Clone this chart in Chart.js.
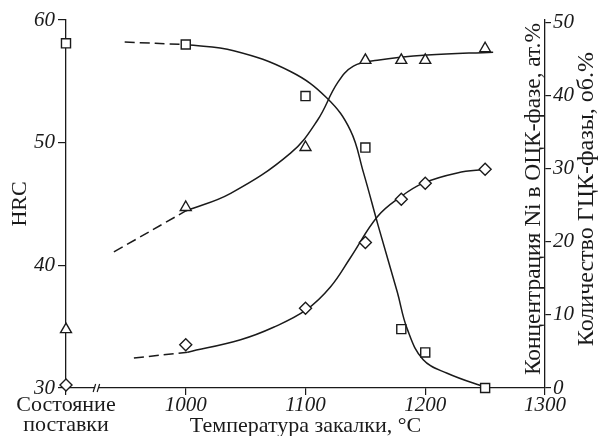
<!DOCTYPE html>
<html>
<head>
<meta charset="utf-8">
<script src="https://cdn.jsdelivr.net/npm/chart.js@4"></script>
<style>
  html, body { margin: 0; padding: 0; background: #fff; }
  #chart { display: block; }
</style>
</head>
<body>
<canvas id="chart" width="600" height="436"></canvas>
<script>
// measured points (x = quench temperature, 900 stands for "as delivered")
const temps = [900, 1000, 1100, 1150, 1180, 1200, 1250];
const hrc = [58.1, 58.0, 53.8, 49.6, 34.8, 32.9, 30.0];
const niBcc = [8.0, 24.7, 32.9, 44.8, 44.8, 44.8, 46.4];
const fccAmount = [0.4, 5.9, 10.9, 19.9, 25.8, 28.0, 29.9];

// fitted curves
const hrcDashT = [949, 1000];
const hrcDash = [58.2, 58.0];
const hrcFitT = [1000, 1040, 1087.5, 1118.3, 1137.5, 1148.3, 1160.8, 1176.7, 1185, 1198.3, 1218.3, 1251.7];
const hrcFit = [58.0, 57.5, 55.8, 53.6, 51.0, 47.6, 43.2, 37.8, 34.8, 32.3, 31.2, 30.0];

const niDashT = [940, 1000];
const niDash = [18.6, 24.2];
const niFitT = [1000, 1037.5, 1087.5, 1110, 1126.7, 1140, 1160, 1201.7, 1256.7];
const niFit = [24.2, 26.6, 32.1, 36.6, 41.7, 44.0, 44.8, 45.5, 45.9];

const fccDashT = [956.7, 1001.7];
const fccDash = [4.1, 4.9];
const fccFitT = [1001.7, 1045.8, 1073.3, 1100.8, 1120.8, 1137.5, 1160, 1179.2, 1198.3, 1226.7, 1251.7];
const fccFit = [4.9, 6.6, 8.3, 10.7, 13.8, 17.8, 23.4, 26.1, 28.0, 29.4, 29.9];

// axes
const xTicks = [900, 1000, 1100, 1200, 1300];
const hrcTicks = [30, 40, 50, 60];
const rightTicks = [0, 10, 20, 30, 40, 50];
const supplyLabel = ["Состояние", "поставки"];
const xTitle = "Температура закалки, °C";
const hrcTitle = "HRC";
const niTitle = "Концентрация Ni в ОЦК-фазе, ат.%";
const fccTitle = "Количество ГЦК-фазы, об.%";

const ink = "#1a1a1a";
const serif = "'Liberation Serif', 'Times New Roman', serif";

const pts = (xs, ys) => xs.map((x, i) => ({ x: x, y: ys[i] }));

const markers = (data, axis, style, radius) => ({
  data: data,
  yAxisID: axis,
  showLine: false,
  pointStyle: style,
  pointRadius: radius,
  pointBackgroundColor: "#fff",
  pointBorderColor: ink,
  pointBorderWidth: 1.4,
  clip: false,
  order: 0,
});

const curve = (data, axis, dashed) => ({
  data: data,
  yAxisID: axis,
  borderColor: ink,
  borderWidth: 1.5,
  borderDash: dashed ? [10, 5] : [],
  pointRadius: 0,
  tension: 0.4,
  fill: false,
  clip: false,
  order: 1,
});

// right-side titles (two lines, reading upwards) and the axis break
const extras = {
  id: "extras",
  afterDraw(chart) {
    const { ctx, chartArea, scales } = chart;
    const midY = (scales.y2.getPixelForValue(0) + scales.y2.getPixelForValue(50)) / 2 - 6;
    ctx.save();
    ctx.fillStyle = ink;
    ctx.textAlign = "center";
    ctx.textBaseline = "middle";
    [[chartArea.right - 11, niTitle, 352], [chartArea.right + 42, fccTitle, 312]].forEach(([x, text, len]) => {
      ctx.font = "22px " + serif;
      const size = Math.min(24, 22 * len / ctx.measureText(text).width);
      ctx.font = size.toFixed(1) + "px " + serif;
      ctx.save();
      ctx.translate(x, midY);
      ctx.rotate(-Math.PI / 2);
      ctx.fillText(text, 0, 0);
      ctx.restore();
    });

    const bx = scales.x.getPixelForValue(926);
    const by = chartArea.bottom;
    ctx.fillStyle = "#fff";
    ctx.fillRect(bx - 2, by - 2, 3, 4);
    ctx.strokeStyle = ink;
    ctx.lineWidth = 1.2;
    ctx.beginPath();
    ctx.moveTo(bx - 4, by + 4);
    ctx.lineTo(bx - 1.5, by - 4);
    ctx.moveTo(bx, by + 4);
    ctx.lineTo(bx + 2.5, by - 4);
    ctx.stroke();
    ctx.restore();
  },
};

new Chart(document.getElementById("chart"), {
  type: "line",
  data: {
    datasets: [
      markers(pts(temps, hrc), "y", "rect", 6.4),
      markers(pts(temps, niBcc), "y2", "triangle", 6.3),
      markers(pts(temps, fccAmount), "y2", "rectRot", 6),
      curve(pts(hrcDashT, hrcDash), "y", true),
      curve(pts(hrcFitT, hrcFit), "y", false),
      curve(pts(niDashT, niDash), "y2", true),
      curve(pts(niFitT, niFit), "y2", false),
      curve(pts(fccDashT, fccDash), "y2", true),
      curve(pts(fccFitT, fccFit), "y2", false),
    ],
  },
  options: {
    responsive: false,
    animation: false,
    layout: { padding: { top: 20, left: 0, right: 0, bottom: 0 } },
    plugins: { legend: { display: false }, tooltip: { enabled: false } },
    scales: {
      x: {
        type: "linear",
        min: 900,
        max: 1300,
        afterBuildTicks: (s) => { s.ticks = xTicks.map((v) => ({ value: v })); },
        afterFit: (s) => { s.height = 48; },
        grid: { drawOnChartArea: false, tickLength: 7, color: ink, lineWidth: 1.2 },
        border: { color: ink, width: 1.3 },
        ticks: {
          padding: 0,
          color: ink,
          maxRotation: 0,
          autoSkip: false,
          callback: (v) => (v === 900 ? supplyLabel : String(v)),
          font: (c) => (c.tick && c.tick.value === 900
            ? { family: serif, size: 22, lineHeight: "20px" }
            : { family: serif, size: 21, style: "italic", lineHeight: "20px" }),
        },
        title: {
          display: true,
          text: xTitle,
          color: ink,
          padding: 0,
          font: { family: serif, size: 22, lineHeight: "19px" },
        },
      },
      y: {
        position: "left",
        min: 30,
        max: 60,
        afterBuildTicks: (s) => { s.ticks = hrcTicks.map((v) => ({ value: v })); },
        afterFit: (s) => { s.width = 66; },
        grid: { drawOnChartArea: false, tickLength: 8, color: ink, lineWidth: 1.2 },
        border: { color: ink, width: 1.3 },
        ticks: {
          padding: 3,
          color: ink,
          font: { family: serif, size: 21, style: "italic" },
        },
        title: {
          display: true,
          text: hrcTitle,
          color: ink,
          padding: { top: 9, bottom: 0 },
          font: { family: serif, size: 22, lineHeight: 1 },
        },
      },
      y2: {
        position: "right",
        min: 0,
        max: 50.3,
        afterBuildTicks: (s) => { s.ticks = rightTicks.map((v) => ({ value: v })); },
        afterFit: (s) => { s.width = 55; },
        grid: { drawOnChartArea: false, tickLength: 6, color: ink, lineWidth: 1.2 },
        border: { color: ink, width: 1.3 },
        ticks: {
          padding: 2,
          color: ink,
          font: { family: serif, size: 21, style: "italic" },
        },
      },
    },
  },
  plugins: [extras],
});
</script>
</body>
</html>
